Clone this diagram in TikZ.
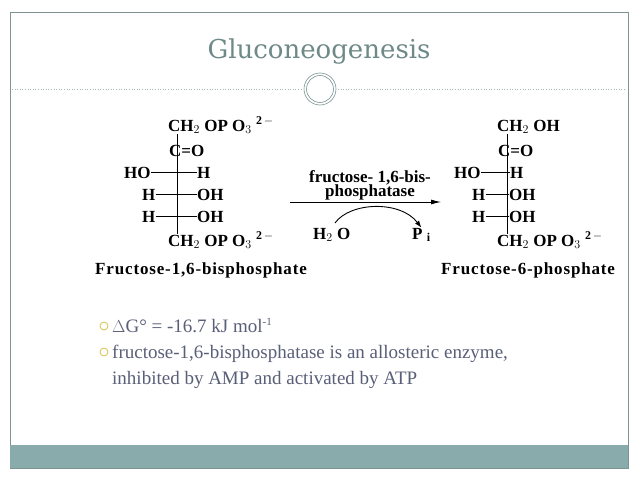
\documentclass[tikz,border=0pt]{standalone}
\usepackage{fontspec}
\setmainfont{Liberation Serif}
\newfontfamily\titlefont{DejaVu Serif}
\usetikzlibrary{arrows.meta}
\definecolor{frame}{HTML}{7F9393}
\definecolor{band}{HTML}{8AABAB}
\definecolor{titlec}{HTML}{6E8A88}
\definecolor{textc}{HTML}{5A5F78}
\definecolor{bulc}{HTML}{D4C24A}
\begin{document}
\begin{tikzpicture}[x=1pt,y=-1pt,
  chem/.style={font=\bfseries\fontsize{17}{19}\selectfont,inner sep=0pt,anchor=base west},
  cname/.style={font=\bfseries\fontsize{17}{19}\selectfont\addfontfeature{LetterSpace=5},inner sep=0pt,anchor=base west},
  bond/.style={line width=0.9pt},
  bul/.style={font=\fontsize{19}{22}\selectfont,text=textc,inner sep=0pt,anchor=base west},
  bmark/.style={draw=bulc,line width=0.8pt,circle,minimum size=8pt,inner sep=0pt}]
\useasboundingbox (0,0) rectangle (638,479);
\fill[white] (0,0) rectangle (638,479);
\draw[frame,line width=0.8pt] (10,12) rectangle (628,468);
\fill[band] (10,445) rectangle (628,468);
\node[font=\titlefont\fontsize{26}{30}\selectfont,text=titlec,inner sep=0pt] (title) at (319,52) {Gluconeogenesis};
\draw[frame!70,dotted,line width=0.6pt] (12,89) -- (302,89);
\draw[frame!70,dotted,line width=0.6pt] (338,89) -- (626,89);
\draw[frame,line width=0.6pt] (320,89) circle (16);
\draw[frame,line width=0.6pt] (320,89) circle (13.5);
% left molecule
\node[chem] (l1) at (168,131) {CH$_2$ OP O$_3$ $^{\mathbf{2\,-}}$};
\node[chem] (l2) at (169,156) {C=O};
\node[chem] (l3a) at (124,178) {HO};
\node[chem] (l3b) at (197,178) {H};
\node[chem] (l4a) at (142,200) {H};
\node[chem] (l4b) at (197,200) {OH};
\node[chem] (l5a) at (142,222) {H};
\node[chem] (l5b) at (197,222) {OH};
\node[chem] (l6) at (168,246) {CH$_2$ OP O$_3$ $^{\mathbf{2\,-}}$};
\node[cname] (lname) at (95,274) {Fructose-1,6-bisphosphate};
\draw[bond] (177,134) -- (177,234);
\draw[bond] (l3a.east |- 0,172) -- (l3b.west |- 0,172);
\draw[bond] (l4a.east |- 0,194) -- (l4b.west |- 0,194);
\draw[bond] (l5a.east |- 0,216) -- (l5b.west |- 0,216);
% right molecule
\node[chem] (r1) at (497,131) {CH$_2$ OH};
\node[chem] (r2) at (498,156) {C=O};
\node[chem] (r3a) at (454,178) {HO};
\node[chem] (r3b) at (510,178) {H};
\node[chem] (r4a) at (472,200) {H};
\node[chem] (r4b) at (509,200) {OH};
\node[chem] (r5a) at (472,222) {H};
\node[chem] (r5b) at (509,222) {OH};
\node[chem] (r6) at (497,246) {CH$_2$ OP O$_3$ $^{\mathbf{2\,-}}$};
\node[cname] (rname) at (441,274) {Fructose-6-phosphate};
\draw[bond] (507,134) -- (507,234);
\draw[bond] (r3a.east |- 0,172) -- (r3b.west |- 0,172);
\draw[bond] (r4a.east |- 0,194) -- (r4b.west |- 0,194);
\draw[bond] (r5a.east |- 0,216) -- (r5b.west |- 0,216);
% reaction
\node[chem,anchor=base] (enz1) at (370,182) {fructose- 1,6-bis-};
\node[chem,anchor=base] (enz2) at (370,196) {phosphatase};
\coordinate (as) at (290,202);
\coordinate (ae) at (441,202);
\draw[line width=0.9pt,-{Latex[length=10pt,width=5pt]}] (as) -- (ae);
\node[chem] (h2o) at (313,239) {H$_2$ O};
\node[chem] (pi) at (412,239) {P $_{\mathbf i}$};
\draw[line width=0.9pt,-{Latex[length=7pt,width=5pt]}] (335,223) .. controls (350,202) and (400,200) .. (pi.north);
% bullets
\node[bmark] (m1) at (104,326) {};
\node[bul] (b1) at (112,332) {$\Delta$G° = -16.7 kJ mol\textsuperscript{\fontsize{11}{12}\selectfont -1}};
\node[bmark] (m2) at (104,352) {};
\node[bul] (b2) at (112,358) {fructose-1,6-bisphosphatase is an allosteric enzyme,};
\node[bul] (b3) at (112,384) {inhibited by AMP and activated by ATP};
\end{tikzpicture}
\end{document}
